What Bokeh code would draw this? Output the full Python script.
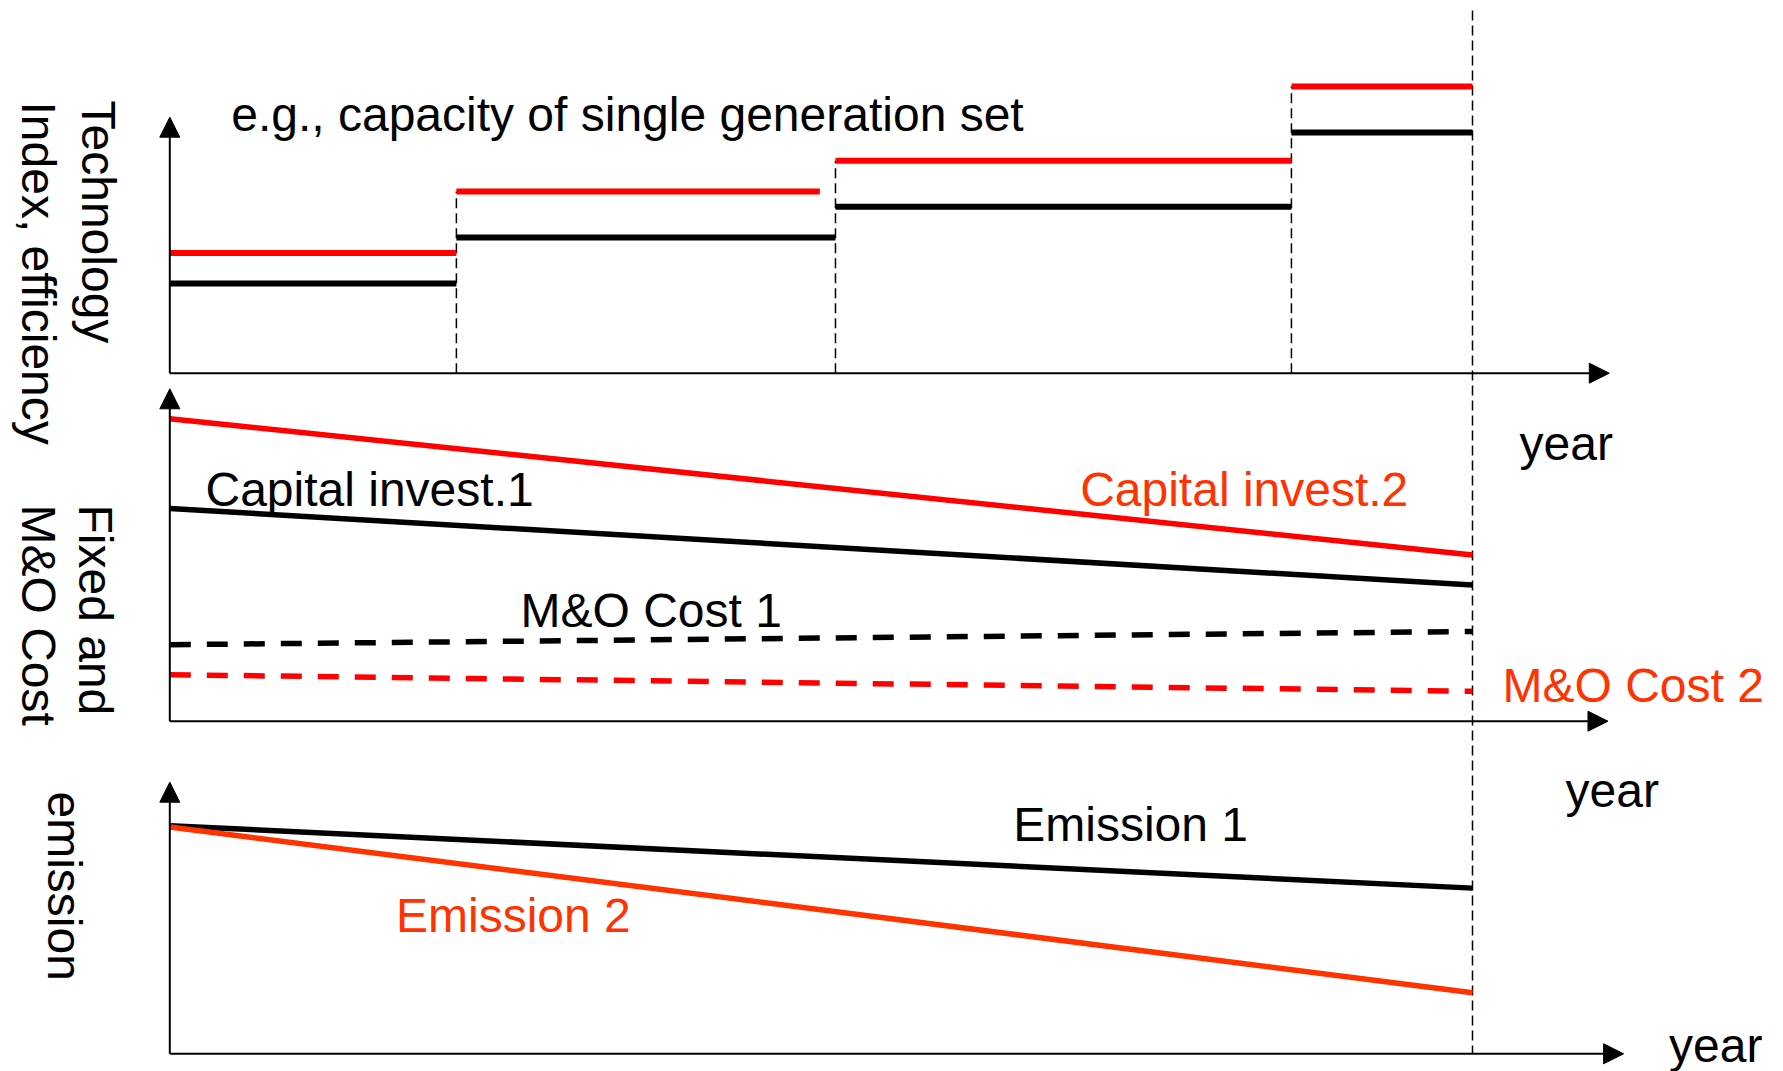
import math
from bokeh.plotting import figure
from bokeh.models import Range1d, Arrow, NormalHead, Label
from bokeh.embed import file_html
from bokeh.resources import INLINE

# ---------------- data ----------------
# time axis in "years" (0 = origin, 10 = end of the horizon / last dashed line)
STEP_START = [0.0, 2.2, 5.11, 8.61]
STEP_END = [2.2, 5.11, 8.61, 10.0]
RED_STEP_END = [2.2, 4.99, 8.61, 10.0]
TECH_1 = [3.5, 5.3, 6.5, 9.4]          # technology index, option 1 (black)
TECH_2 = [4.7, 7.1, 8.3, 11.2]         # technology index, option 2 (red)
YEARS = [0.0, 10.0]
CAPITAL_1 = [6.4, 4.1]
CAPITAL_2 = [9.1, 5.0]
MO_COST_1 = [2.3, 2.7]
MO_COST_2 = [1.4, 0.9]
EMISSION_1 = [8.4, 6.1]
EMISSION_2 = [8.35, 2.25]

# ---------------- layout ----------------
W, H = 1783, 1071
ORIGIN_X = 169.3          # px of year 0
PX_PER_YEAR = 130.27
# panel: (px of its x-axis from top, px per value unit, x-arrow end in years)
PANELS = {
    "tech": (372.7, 25.6, 11.05),
    "cost": (720.7, 33.24, 11.04),
    "emis": (1053.3, 27.16, 11.16),
}
AXIS_TOP = 10.0

RED = "#FF0000"
ORANGE = "#FF3300"
FONT = "Liberation Sans"
FSIZE = "48px"
BASE_SHIFT = 16.5   # compensation of the label baseline placement

p = figure(width=W, height=H,
           x_range=Range1d(-ORIGIN_X / PX_PER_YEAR, (W - ORIGIN_X) / PX_PER_YEAR),
           y_range=Range1d(H, 0),
           output_backend="svg", toolbar_location=None,
           x_axis_location=None, y_axis_location=None,
           min_border=0, outline_line_color=None,
           background_fill_color="white", border_fill_color="white")
p.grid.visible = False
p.extra_x_ranges = {"layout": Range1d(0, W)}
p.extra_y_ranges = {
    name: Range1d(-(H - ax) / u, ax / u) for name, (ax, u, _) in PANELS.items()
}

# ---------------- axes (arrows) ----------------
for name, (ax, u, xend) in PANELS.items():
    p.add_layout(Arrow(end=NormalHead(size=20, fill_color="black", line_color="black", line_width=1),
                       x_start=0, y_start=0, x_end=0, y_end=AXIS_TOP,
                       line_width=2, line_color="black", y_range_name=name))
    p.add_layout(Arrow(end=NormalHead(size=20, fill_color="black", line_color="black", line_width=1),
                       x_start=0, y_start=0, x_end=xend, y_end=0,
                       line_width=2, line_color="black", y_range_name=name))

# ---------------- technology panel ----------------
p.segment(x0=STEP_START[1:], y0=[0] * 3, x1=STEP_START[1:], y1=TECH_2[1:],
          line_color="black", line_width=1.5, line_dash="10 5", y_range_name="tech")
# horizon line (spans all panels)
p.segment(x0=[YEARS[-1]], y0=[10], x1=[YEARS[-1]], y1=[PANELS["emis"][0]],
          line_color="black", line_width=1.5, line_dash="10 5")
p.segment(x0=STEP_START, y0=TECH_1, x1=STEP_END, y1=TECH_1,
          line_color="black", line_width=6, y_range_name="tech")
p.segment(x0=STEP_START, y0=TECH_2, x1=RED_STEP_END, y1=TECH_2,
          line_color=RED, line_width=6, y_range_name="tech")

# ---------------- cost panel ----------------
p.line(YEARS, MO_COST_1, line_color="black", line_width=5.5, line_dash="21 16", y_range_name="cost")
p.line(YEARS, MO_COST_2, line_color=RED, line_width=5.5, line_dash="21 16", y_range_name="cost")
p.line(YEARS, CAPITAL_1, line_color="black", line_width=5.5, y_range_name="cost")
p.line(YEARS, CAPITAL_2, line_color=RED, line_width=5.5, y_range_name="cost")

# ---------------- emission panel ----------------
p.line(YEARS, EMISSION_1, line_color="black", line_width=5.5, y_range_name="emis")
p.line(YEARS, EMISSION_2, line_color=ORANGE, line_width=5.5, y_range_name="emis")

# ---------------- texts ----------------
texts = [
    ("e.g., capacity of single generation set", 230.7, 130, "left", "black"),
    ("Capital invest.1", 205, 505, "left", "black"),
    ("Capital invest.2", 1407.8, 505, "right", ORANGE),
    ("M&O Cost 1", 520, 626.7, "left", "black"),
    ("M&O Cost 2", 1502, 701.7, "left", ORANGE),
    ("year", 1519, 459.3, "left", "black"),
    ("Emission 1", 1247.5, 840, "right", "black"),
    ("Emission 2", 395.5, 931.7, "left", ORANGE),
    ("year", 1565, 806.7, "left", "black"),
    ("year", 1668.5, 1061.7, "left", "black"),
]
for t, x, y, align, col in texts:
    p.add_layout(Label(x=x, y=y - BASE_SHIFT, text=t, x_range_name="layout", text_align=align,
                       text_baseline="alphabetic", text_font=FONT, text_font_size=FSIZE,
                       text_color=col))

vtexts = [
    ("Technology", 83.3, 100),
    ("Index, efficiency", 23, 101),
    ("Fixed and", 80.4, 504),
    ("M&O Cost", 23, 504),
    ("emission", 48.8, 791),
]
for t, x, y in vtexts:
    p.add_layout(Label(x=x + BASE_SHIFT - 1.5, y=y, text=t, x_range_name="layout", angle=-math.pi / 2,
                       text_align="left", text_baseline="alphabetic",
                       text_font=FONT, text_font_size=FSIZE, text_color="black"))

open("out.html", "w").write(file_html(p, INLINE))
